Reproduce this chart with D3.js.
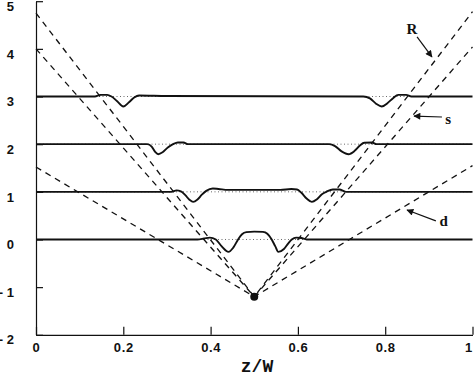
<!DOCTYPE html>
<html>
<head>
<meta charset="utf-8">
<script src="https://cdn.jsdelivr.net/npm/d3@7"></script>
<style>
  body { margin: 0; background: #fff; }
  svg { display: block; }
</style>
</head>
<body>
<div id="graph"></div>
<script>
// tick values
const xTicks = [0, 0.2, 0.4, 0.6, 0.8, 1];
const yTicks = [-2, -1, 0, 1, 2, 3, 4, 5];
const levels = [0, 1, 2, 3];

// solid profiles: [z/W, value]
const profile3 = [[0, 3], [0.135, 3], [0.148, 3.035], [0.163, 3.035], [0.173, 3.0], [0.186, 2.9],
    [0.2, 2.79], [0.213, 2.88], [0.225, 2.98], [0.236, 3.02], [0.3, 3.01], [0.75, 3.0],
    [0.765, 2.96], [0.779, 2.85], [0.792, 2.79], [0.805, 2.86], [0.818, 2.965], [0.83, 3.035],
    [0.848, 3.035], [0.86, 3.0], [1, 3]];
const profile2 = [[0, 2], [0.255, 2], [0.265, 1.95], [0.273, 1.84], [0.28, 1.79], [0.29, 1.83],
    [0.302, 1.93], [0.314, 2.0], [0.325, 2.035], [0.338, 2.035], [0.348, 2.0], [0.672, 2.0],
    [0.685, 1.96], [0.7, 1.85], [0.716, 1.79], [0.73, 1.86], [0.742, 1.97], [0.752, 2.03],
    [0.77, 2.035], [0.78, 2.0], [1, 2]];
const profile1 = [[0, 1], [0.31, 1.0], [0.322, 1.03], [0.332, 1.01], [0.342, 0.93], [0.352, 0.83],
    [0.36, 0.79], [0.37, 0.84], [0.38, 0.94], [0.39, 1.02], [0.405, 1.07], [0.418, 1.06],
    [0.44, 1.04], [0.5, 1.04], [0.56, 1.04], [0.585, 1.06], [0.598, 1.05], [0.608, 0.98],
    [0.62, 0.86], [0.632, 0.79], [0.643, 0.84], [0.655, 0.95], [0.665, 1.0], [0.68, 1.05],
    [0.695, 1.05], [0.71, 1.0], [1, 1]];
const profile0 = [[0, 0], [0.37, 0], [0.385, 0.02], [0.398, 0.04], [0.412, 0.0], [0.425, -0.14],
    [0.441, -0.26], [0.452, -0.17], [0.463, 0.0], [0.472, 0.11], [0.482, 0.155], [0.5, 0.165],
    [0.52, 0.16], [0.53, 0.12], [0.54, 0.0], [0.548, -0.14], [0.555, -0.26], [0.568, -0.2],
    [0.578, -0.08], [0.586, 0.0], [0.596, 0.04], [0.608, 0.03], [0.62, 0], [1, 0]];

// dashed V lines meeting at the dot
const rOuter = [[0, 4.75], [0.5, -1.2], [1, 4.78]];
const rInner = [[0, 4.0], [0.5, -1.2], [1, 4.04]];
const dLine = [[0, 1.52], [0.5, -1.2], [1, 1.55]];
const focus = [0.5, -1.2];

const width = 474;
const height = 377;

const x = d3.scaleLinear().domain([0, 1]).range([36, 472.5]);
const y = d3.scaleLinear().domain([-2, 5]).range([334.8, 1.2]);

const line = d3.line()
    .x(d => x(d[0]))
    .y(d => y(d[1]));

const svg = d3.select('#graph')
    .append('svg')
    .attr('width', width)
    .attr('height', height)
    .style('background', '#fff');

svg.append('defs').append('marker')
    .attr('id', 'head')
    .attr('viewBox', '0 0 10 10')
    .attr('refX', 9).attr('refY', 5)
    .attr('markerWidth', 8).attr('markerHeight', 7)
    .attr('markerUnits', 'userSpaceOnUse')
    .attr('orient', 'auto')
    .append('path')
    .attr('d', 'M0,0 L10,5 L0,10 Z')
    .attr('fill', '#111');

// dotted reference levels
svg.append('g').selectAll('line')
    .data(levels)
    .join('line')
    .attr('x1', x(0)).attr('x2', x(1))
    .attr('y1', d => y(d)).attr('y2', d => y(d))
    .attr('stroke', '#444')
    .attr('stroke-width', 0.8)
    .attr('stroke-dasharray', '1,2.5');

// dashed lines
svg.append('g').selectAll('path')
    .data([rOuter, rInner, dLine])
    .join('path')
    .attr('d', line)
    .attr('fill', 'none')
    .attr('stroke', '#111')
    .attr('stroke-width', 1.3)
    .attr('stroke-dasharray', '6,5');

// solid profiles
svg.append('g').selectAll('path')
    .data([profile0, profile1, profile2, profile3])
    .join('path')
    .attr('d', line.curve(d3.curveMonotoneX))
    .attr('fill', 'none')
    .attr('stroke', '#111')
    .attr('stroke-width', 1.9);

svg.append('circle')
    .attr('cx', x(focus[0]))
    .attr('cy', y(focus[1]))
    .attr('r', 4)
    .attr('fill', '#111');

// axes
const tickFont = g => g.selectAll('text')
    .attr('font-family', '"Liberation Sans", Arial, sans-serif')
    .attr('font-weight', 'bold')
    .attr('font-size', 13)
    .attr('fill', '#111');

svg.append('g')
    .attr('transform', `translate(0, ${y(-2)})`)
    .call(d3.axisBottom(x).tickValues(xTicks).tickSizeInner(-8).tickSizeOuter(0).tickPadding(8)
        .tickFormat(d => (d === 0 || d === 1) ? d : d3.format('.1f')(d)))
    .call(g => g.select('.domain').attr('stroke', '#111').attr('stroke-width', 1.2))
    .call(g => g.selectAll('.tick line').attr('stroke', '#111').attr('stroke-width', 1.2))
    .call(tickFont)
    .call(g => g.selectAll('text').attr('letter-spacing', 0.6))
    .call(g => g.selectAll('text').filter(d => d === 1).attr('dx', -4));

svg.append('g')
    .attr('transform', `translate(${x(0)}, 0)`)
    .call(d3.axisLeft(y).tickValues(yTicks).tickSizeInner(-7).tickSizeOuter(0).tickPadding(22)
        .tickFormat(d => d < 0 ? '- ' + Math.abs(d) : d))
    .call(g => g.select('.domain').attr('stroke', '#111').attr('stroke-width', 1.2))
    .call(g => g.selectAll('.tick line').attr('stroke', '#111').attr('stroke-width', 1.2))
    .call(tickFont)
    .call(g => g.selectAll('text').attr('dy', '0.32em').attr('transform', 'translate(0,5)'));

svg.append('text')
    .attr('x', 257)
    .attr('y', 372)
    .attr('text-anchor', 'middle')
    .attr('font-family', '"Liberation Mono", "Courier New", monospace')
    .attr('font-weight', 'bold')
    .attr('font-size', 18)
    .attr('fill', '#111')
    .text('z/W');

// labels with arrows, in data units
const notes = [
    { text: 'R', at: [0.861, 4.42], from: [0.873, 4.25], to: [0.907, 3.83] },
    { text: 's', at: [0.944, 2.52], from: [0.93, 2.57], to: [0.866, 2.59] },
    { text: 'd', at: [0.934, 0.38], from: [0.916, 0.39], to: [0.85, 0.62] }
];

const ann = svg.append('g');
ann.selectAll('line')
    .data(notes)
    .join('line')
    .attr('x1', d => x(d.from[0])).attr('y1', d => y(d.from[1]))
    .attr('x2', d => x(d.to[0])).attr('y2', d => y(d.to[1]))
    .attr('stroke', '#111')
    .attr('stroke-width', 1.2)
    .attr('marker-end', 'url(#head)');
ann.selectAll('text')
    .data(notes)
    .join('text')
    .attr('x', d => x(d.at[0])).attr('y', d => y(d.at[1]))
    .attr('text-anchor', 'middle')
    .attr('dominant-baseline', 'central')
    .attr('font-family', '"Liberation Serif", "Times New Roman", serif')
    .attr('font-weight', 'bold')
    .attr('font-size', 15)
    .attr('fill', '#111')
    .text(d => d.text);
</script>
</body>
</html>
